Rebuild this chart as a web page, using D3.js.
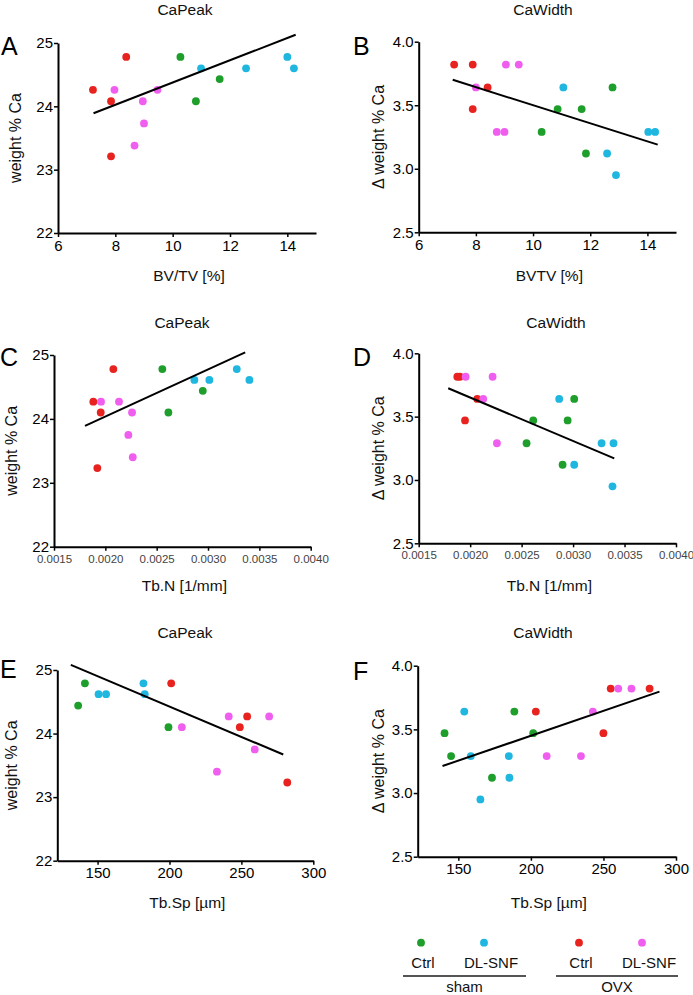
<!DOCTYPE html>
<html><head><meta charset="utf-8">
<script src="https://cdn.jsdelivr.net/npm/d3@7"></script>
<style>
body{margin:0;background:#fff;}
svg{display:block;font-family:"Liberation Sans",Arial,sans-serif;}
</style></head><body>
<svg id="c" width="693" height="995"></svg>
<script>
// ---- data (each point: [x, y]) ----
const groups = ["shamCtrl","shamSNF","ovxCtrl","ovxSNF"];
const groupColors = ["#1e9e2a","#1fb6df","#e8231f","#f05ef0"];

const A_shamCtrl = [[10.27,24.78],[10.81,24.08],[11.64,24.43]];
const A_shamSNF  = [[10.99,24.6],[12.56,24.6],[14.0,24.78],[14.23,24.6]];
const A_ovxCtrl  = [[7.22,24.26],[7.85,24.08],[8.38,24.78],[7.85,23.21]];
const A_ovxSNF   = [[7.97,24.26],[8.96,24.08],[9.0,23.73],[8.67,23.38],[9.47,24.26]];
const A_fit      = [[7.24,23.89],[14.29,25.13]];

const B_shamCtrl = [[10.3,3.29],[10.86,3.47],[11.7,3.47],[11.85,3.12],[12.78,3.64]];
const B_shamSNF  = [[11.06,3.64],[12.59,3.12],[12.9,2.95],[14.03,3.29],[14.27,3.29]];
const B_ovxCtrl  = [[7.24,3.82],[7.89,3.82],[8.41,3.64],[7.89,3.47]];
const B_ovxSNF   = [[8.0,3.64],[9.05,3.82],[9.5,3.82],[8.73,3.29],[9.0,3.29]];
const B_fit      = [[7.19,3.70],[14.36,3.19]];

const C_shamCtrl = [[0.002555,24.78],[0.002614,24.10],[0.002949,24.44]];
const C_shamSNF  = [[0.002867,24.61],[0.003013,24.61],[0.00328,24.78],[0.003403,24.61]];
const C_ovxCtrl  = [[0.001883,24.27],[0.001955,24.10],[0.002078,24.78],[0.001922,23.23]];
const C_ovxSNF   = [[0.001958,24.27],[0.002133,24.27],[0.00226,24.10],[0.002224,23.75],[0.002267,23.40]];
const C_fit      = [[0.001802,23.89],[0.003362,25.04]];

const D_shamCtrl = [[0.002548,3.29],[0.002613,3.47],[0.002947,3.47],[0.002898,3.12],[0.003011,3.64]];
const D_shamSNF  = [[0.002865,3.64],[0.003011,3.12],[0.003277,3.29],[0.003393,3.29],[0.003383,2.95]];
const D_ovxCtrl  = [[0.001875,3.815],[0.0019,3.815],[0.002069,3.64],[0.00195,3.47]];
const D_ovxSNF   = [[0.001956,3.815],[0.002218,3.815],[0.002127,3.64],[0.00226,3.29]];
const D_fit      = [[0.001787,3.724],[0.0034,3.171]];

const E_shamCtrl = [[141.2,24.79],[136.5,24.44],[199.3,24.10]];
const E_shamSNF  = [[150.7,24.62],[155.9,24.62],[181.9,24.79],[182.8,24.62]];
const E_ovxCtrl  = [[201.2,24.79],[248.9,24.10],[254,24.27],[281.9,23.23]];
const E_ovxSNF   = [[208.6,24.10],[241.2,24.27],[269.3,24.27],[259.3,23.75],[233,23.40]];
const E_fit      = [[131.4,25.08],[279.1,23.67]];

const F_shamCtrl = [[140.5,3.47],[145,3.29],[173.2,3.12],[188.6,3.64],[201.6,3.47]];
const F_shamSNF  = [[154.1,3.64],[158.6,3.29],[165.2,2.95],[184.8,3.29],[185.2,3.12]];
const F_ovxCtrl  = [[203.4,3.64],[250,3.47],[255,3.82],[281.8,3.82]];
const F_ovxSNF   = [[210.9,3.29],[234.5,3.29],[242.7,3.64],[260.2,3.82],[269.3,3.82]];
const F_fit      = [[139.1,3.212],[288.6,3.796]];

const ticksBVTV = [6,8,10,12,14];
const ticksTbN  = [0.0015,0.0020,0.0025,0.0030,0.0035,0.0040];
const ticksTbSp = [150,200,250,300];
const ticksPeak = [22,23,24,25];
const ticksWidth = [2.5,3.0,3.5,4.0];

const legendGroups = ["Ctrl","DL-SNF","Ctrl","DL-SNF"];
const legendParents = ["sham","OVX"];

// ---- layout ----
const svg = d3.select("#c");
const panels = [
 {id:"A",title:"CaPeak",xl:"BV/TV [%]",yl:"weight % Ca",x0:58,x1:316,y0:233,y1:43,xd:[6,15],yd:[22,25],xt:ticksBVTV,yt:ticksPeak,xf:d3.format("d"),yf:d3.format("d"),small:false,
  data:[A_shamCtrl,A_shamSNF,A_ovxCtrl,A_ovxSNF],fit:A_fit,tx:185,ty:15,lx:1,ly:55,ylx:21,xly:281},
 {id:"B",title:"CaWidth",xl:"BVTV [%]",yl:"Δ weight % Ca",x0:418.7,x1:676,y0:232.3,y1:41.7,xd:[6,15],yd:[2.5,4.0],xt:ticksBVTV,yt:ticksWidth,xf:d3.format("d"),yf:d3.format(".1f"),small:false,
  data:[B_shamCtrl,B_shamSNF,B_ovxCtrl,B_ovxSNF],fit:B_fit,tx:543,ty:15,lx:353,ly:55,ylx:384,xly:281},
 {id:"C",title:"CaPeak",xl:"Tb.N [1/mm]",yl:"weight % Ca",x0:54,x1:310.7,y0:546.7,y1:355,xd:[0.0015,0.0040],yd:[22,25],xt:ticksTbN,yt:ticksPeak,xf:d3.format(".4f"),yf:d3.format("d"),small:true,
  data:[C_shamCtrl,C_shamSNF,C_ovxCtrl,C_ovxSNF],fit:C_fit,tx:182,ty:328,lx:0,ly:366,ylx:17,xly:591},
 {id:"D",title:"CaWidth",xl:"Tb.N [1/mm]",yl:"Δ weight % Ca",x0:418.7,x1:676,y0:543.3,y1:353.3,xd:[0.0015,0.0040],yd:[2.5,4.0],xt:ticksTbN,yt:ticksWidth,xf:d3.format(".4f"),yf:d3.format(".1f"),small:true,
  data:[D_shamCtrl,D_shamSNF,D_ovxCtrl,D_ovxSNF],fit:D_fit,tx:556,ty:328,lx:353,ly:366,ylx:384,xly:591},
 {id:"E",title:"CaPeak",xl:"Tb.Sp [µm]",yl:"weight % Ca",x0:57.3,x1:313.3,y0:860.7,y1:670,xd:[122,300],yd:[22,25],xt:ticksTbSp,yt:ticksPeak,xf:d3.format("d"),yf:d3.format("d"),small:false,
  data:[E_shamCtrl,E_shamSNF,E_ovxCtrl,E_ovxSNF],fit:E_fit,tx:185,ty:638,lx:0,ly:678,ylx:17,xly:908},
 {id:"F",title:"CaWidth",xl:"Tb.Sp [µm]",yl:"Δ weight % Ca",x0:417.7,x1:676,y0:856.7,y1:665.7,xd:[122,300],yd:[2.5,4.0],xt:ticksTbSp,yt:ticksWidth,xf:d3.format("d"),yf:d3.format(".1f"),small:false,
  data:[F_shamCtrl,F_shamSNF,F_ovxCtrl,F_ovxSNF],fit:F_fit,tx:543,ty:638,lx:353,ly:680,ylx:384,xly:908}
];

panels.forEach(p=>{
  const x = d3.scaleLinear().domain(p.xd).range([p.x0,p.x1]);
  const y = d3.scaleLinear().domain(p.yd).range([p.y0,p.y1]);
  const g = svg.append("g");
  const fs = p.small ? 11.5 : 15;
  const tc = p.small ? "#444" : "#000";

  const xa = g.append("g").attr("transform",`translate(0,${p.y0})`)
    .call(d3.axisBottom(x).tickValues(p.xt).tickFormat(p.xf).tickSize(4).tickPadding(p.small?4:3).tickSizeOuter(0));
  const ya = g.append("g").attr("transform",`translate(${p.x0},0)`)
    .call(d3.axisLeft(y).tickValues(p.yt).tickFormat(p.yf).tickSize(4).tickPadding(1).tickSizeOuter(0));
  [xa,ya].forEach(a=>{
    a.select(".domain").attr("stroke","#000").attr("stroke-width",2);
    a.selectAll(".tick line").attr("stroke","#000").attr("stroke-width",1.5);
  });
  xa.selectAll("text").attr("font-size",fs).attr("fill",tc).attr("font-family","Liberation Sans, Arial");
  ya.selectAll("text").attr("font-size",15).attr("fill","#000").attr("font-family","Liberation Sans, Arial");

  g.append("text").attr("x",p.tx).attr("y",p.ty).attr("text-anchor","middle").attr("font-size",15.5).attr("fill","#111").text(p.title);
  g.append("text").attr("x",p.lx).attr("y",p.ly).attr("font-size",25).attr("fill","#000").text(p.id);
  g.append("text").attr("transform",`translate(${p.ylx},${(p.y0+p.y1)/2}) rotate(-90)`).attr("text-anchor","middle")
    .attr("font-size",16).attr("fill","#111").text(p.yl);
  g.append("text").attr("x",(p.x0+p.x1)/2 + 2).attr("y",p.xly).attr("text-anchor","middle").attr("font-size",15.5).attr("fill","#111").text(p.xl);

  p.data.forEach((arr,i)=>{
    g.selectAll(null).data(arr).enter().append("circle")
      .attr("cx",d=>x(d[0])).attr("cy",d=>y(d[1])).attr("r",3.9).attr("fill",groupColors[i]);
  });
  g.append("path").datum(p.fit).attr("d",d3.line().x(d=>x(d[0])).y(d=>y(d[1])))
    .attr("stroke","#000").attr("stroke-width",2).attr("fill","none");
});

// ---- legend ----
const legendX = [421,484,579,642];
const lg = svg.append("g");
groups.forEach((gname,i)=>{
  lg.append("circle").attr("cx",legendX[i]).attr("cy",942.7).attr("r",3.9).attr("fill",groupColors[i]);
  lg.append("text").attr("x",legendX[i] + (i%2?7:2)).attr("y",968).attr("text-anchor","middle").attr("font-size",15).attr("fill","#111").text(legendGroups[i]);
});
const parentSpans = [[403,526],[556,678]];
legendParents.forEach((t,i)=>{
  lg.append("line").attr("x1",parentSpans[i][0]).attr("x2",parentSpans[i][1]).attr("y1",976).attr("y2",976).attr("stroke","#555").attr("stroke-width",2);
  lg.append("text").attr("x",(parentSpans[i][0]+parentSpans[i][1])/2).attr("y",992).attr("text-anchor","middle").attr("font-size",15).attr("fill","#111").text(t);
});
</script></body></html>
